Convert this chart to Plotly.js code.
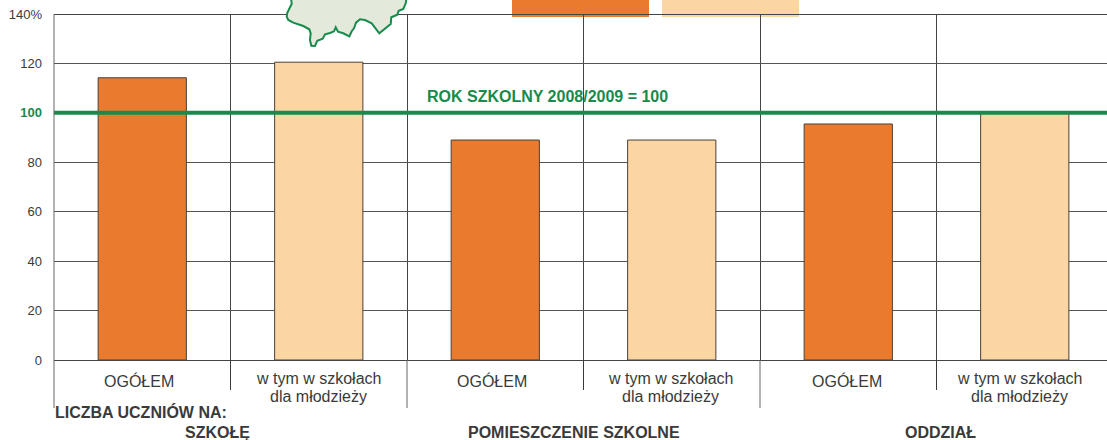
<!DOCTYPE html>
<html><head><meta charset="utf-8">
<script src="https://cdn.plot.ly/plotly-3.0.1.min.js"></script>
<style>html,body{margin:0;padding:0;background:#fff;overflow:hidden}</style>
</head><body><div id="chart" style="width:1107px;height:440px"></div>
<script>
const categories = ['OGÓŁEM','w tym w szkołach|dla młodzieży','OGÓŁEM','w tym w szkołach|dla młodzieży','OGÓŁEM','w tym w szkołach|dla młodzieży'];
const values = [114.2,120.5,89,89,95.5,100];
const barColors = ['#EA7A2D','#FBD5A2','#EA7A2D','#FBD5A2','#EA7A2D','#FBD5A2'];
const yTickVals = [0,20,40,60,80,100,120,140];
const yTickText = ['0','20','40','60','80','<b><span style="color:#178A4C">100</span></b>','120','140%'];
const groupLabels = ['SZKOŁĘ','POMIESZCZENIE SZKOLNE','ODDZIAŁ'];
const groupCentersPx = [217,574,940];
const labelShiftPx = [-3.5,0,-3.5,-1,-1,-5.5];
const reference = 100;
const referenceLabel = 'ROK SZKOLNY 2008/2009 = 100';
const leadLabel = 'LICZBA UCZNIÓW NA:';
const mapOutlinePx = [[290.7,-5],[291.7,4],[290,7.3],[287.3,12.7],[286.7,16.7],[288.3,20],[293.3,22.7],[303.3,26],[309.3,29.3],[310.7,33.3],[310,40],[311.3,45.7],[315,46],[317.3,40.7],[322.7,38.7],[325,34.3],[330,33],[334,31.3],[335.7,27.3],[338,31.7],[343.3,33.3],[349.3,36.3],[352,30.7],[354,28.3],[356,22.7],[360,19.3],[365,20],[371.7,23.3],[379.3,33.3],[390.7,24],[391.3,17.3],[397.3,14.7],[398.7,10.7],[403.3,9],[405.7,3.3],[407,-5]];

const W = 1107, H = 440, L = 54, T = 14, B = 80;
const slot = 176.5;
const xRange = [-0.5, -0.5 + (W - L) / slot];
const px = x => (x - L) / (W - L);
const py = y => (H - B - y) / (H - B - T);
const txtColor = '#3a3a3a';
const fontFamily = 'Liberation Sans, Arial, sans-serif';

const shapes = [];
[[512,649,'#EA7A2D'],[662,799,'#FBD5A2']].forEach(s => shapes.push({type:'rect',xref:'paper',yref:'paper',x0:px(s[0]),x1:px(s[1]),y0:py(17),y1:py(-1),fillcolor:s[2],line:{width:0},layer:'below'}));
shapes.push({type:'line',xref:'paper',yref:'paper',x0:0,x1:1,y0:py(14.5),y1:py(14.5),line:{color:'#444',width:1},layer:'below'});
[-0.5,0.5,1.5,2.5,3.5,4.5].forEach((x,i) => {
  const x0 = L + (x + 0.5) * slot;
  shapes.push({type:'line',xref:'paper',yref:'paper',x0:px(x0),x1:px(x0),y0:py(i===0?14:360),y1:py(i % 2 === 0 ? 408 : 390),line:{color:i%2===0?'#666':'#3a3a3a',width:1}});
});
const mapPath = mapOutlinePx.map((p,i) => (i?'L':'M') + px(p[0]) + ',' + py(p[1])).join(' ') + ' Z';
shapes.push({type:'path',xref:'paper',yref:'paper',path:mapPath,fillcolor:'#E4EADB',line:{color:'#178A4C',width:2},layer:'above'});

const annotations = [];
categories.forEach((c,i) => {
  const lines = c.split('|');
  const ys = lines.length === 1 ? [381] : [378,396];
  lines.forEach((t,j) => annotations.push({text:t,xref:'x',yref:'paper',x:i,xshift:labelShiftPx[i],y:py(ys[j]),xanchor:'center',yanchor:'middle',showarrow:false,font:{family:fontFamily,size:16,color:txtColor}}));
});
annotations.push({text:'<b>'+leadLabel+'</b>',xref:'paper',yref:'paper',x:px(53),y:py(412),xanchor:'left',yanchor:'middle',showarrow:false,font:{family:fontFamily,size:16,color:txtColor}});
groupLabels.forEach((g,i) => annotations.push({text:'<b>'+g+'</b>',xref:'paper',yref:'paper',x:px(groupCentersPx[i]),y:py(432.5),xanchor:'center',yanchor:'middle',showarrow:false,font:{family:fontFamily,size:16,color:txtColor}}));
annotations.push({text:'<b>'+referenceLabel+'</b>',xref:'paper',yref:'paper',x:px(425),y:py(96),xanchor:'left',yanchor:'middle',showarrow:false,font:{family:fontFamily,size:16,color:'#178A4C'}});

const traces = [
  {type:'bar',x:categories.map((c,i)=>i),y:values,width:0.5,marker:{color:barColors,line:{color:'#4a4038',width:1}},hoverinfo:'y'},
  {type:'scatter',mode:'lines',x:xRange,y:[reference,reference],line:{color:'#178A4C',width:4},hoverinfo:'skip'}
];
const layout = {
  width:W,height:H,margin:{l:L,r:0,t:T,b:B},showlegend:false,
  paper_bgcolor:'#fff',plot_bgcolor:'#fff',
  font:{family:fontFamily,color:txtColor},
  xaxis:{range:xRange,tickmode:'array',tickvals:[0.5,1.5,2.5,3.5,4.5],ticktext:['','','','',''],showgrid:true,gridcolor:'#444',gridwidth:1,showline:true,linecolor:'#444',linewidth:1,ticks:'',zeroline:false,fixedrange:true},
  yaxis:{range:[0,140],tickmode:'array',tickvals:yTickVals,ticktext:yTickText,tickfont:{size:13,color:txtColor},showgrid:true,gridcolor:'#555',gridwidth:1,zeroline:false,showline:false,ticks:'',ticklabelstandoff:11,fixedrange:true},
  shapes,annotations,bargap:0.5
};
Plotly.newPlot('chart',traces,layout,{displayModeBar:false,staticPlot:true});
</script></body></html>
